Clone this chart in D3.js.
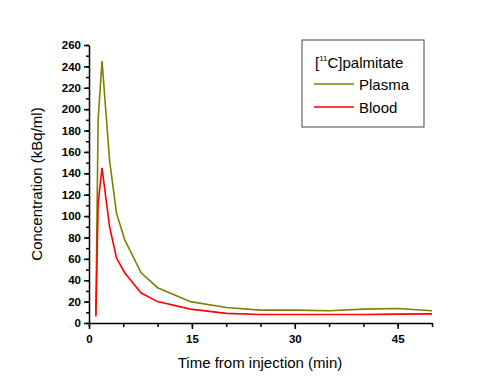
<!DOCTYPE html>
<html>
<head>
<meta charset="utf-8">
<script src="https://d3js.org/d3.v7.min.js"></script>
<style>
  body { margin: 0; background: #fff; }
  text { font-family: "Liberation Sans", Arial, sans-serif; }
  .axis text { font-weight: bold; font-size: 11.5px; fill: #000; }
  .axis line, .axis path { stroke: #000; stroke-width: 1.5; }
</style>
</head>
<body>
<svg id="chart" width="500" height="386"></svg>
<script>
// time points (min) and concentrations (kBq/ml)
var times  = [1, 1.33, 1.9, 3, 4, 5.2, 7.6, 10, 14.8, 20, 25, 30, 35, 40, 45, 50];
var plasma = [8, 190, 245, 152, 103, 78, 47, 33, 20, 14.5, 12, 12, 11.5, 13, 13.5, 11.5];
var blood  = [6, 112, 145, 90, 61, 47, 28, 20, 13, 9, 8, 8, 8, 8, 8.3, 8.5];
var xTicks = [0, 15, 30, 45];
var yTicks = [0, 20, 40, 60, 80, 100, 120, 140, 160, 180, 200, 220, 240, 260];

var margin = { top: 45, right: 68, bottom: 63, left: 89 },
    width = 500 - margin.left - margin.right,
    height = 386 - margin.top - margin.bottom;

var svg = d3.select("#chart");
var g = svg.append("g").attr("transform", "translate(" + margin.left + "," + margin.top + ")");

var x = d3.scaleLinear().domain([0, 50]).range([0, width]);
var y = d3.scaleLinear().domain([0, 260]).range([height, 0]);

// minor ticks first
g.append("g")
  .attr("class", "axis")
  .attr("transform", "translate(0," + height + ")")
  .call(d3.axisBottom(x).tickValues(d3.range(0, 51, 5)).tickSize(4).tickFormat(""))
  .select(".domain").remove();
g.append("g")
  .attr("class", "axis")
  .call(d3.axisLeft(y).tickValues(d3.range(0, 261, 10)).tickSize(3).tickFormat(""))
  .select(".domain").remove();

// major axes
g.append("g")
  .attr("class", "axis")
  .attr("transform", "translate(0," + height + ")")
  .call(d3.axisBottom(x).tickValues(xTicks).tickSize(6).tickSizeOuter(0).tickPadding(6));
g.append("g")
  .attr("class", "axis")
  .call(d3.axisLeft(y).tickValues(yTicks).tickSize(5).tickSizeOuter(0).tickPadding(3));

var line = d3.line()
  .x(function (d, i) { return x(times[i]); })
  .y(function (d) { return y(d); });

g.append("path").datum(plasma)
  .attr("fill", "none").attr("stroke", "#808000").attr("stroke-width", 1.6)
  .attr("d", line);
g.append("path").datum(blood)
  .attr("fill", "none").attr("stroke", "#ff0000").attr("stroke-width", 1.6)
  .attr("d", line);

// axis titles
svg.append("text")
  .attr("x", 260).attr("y", 368)
  .attr("text-anchor", "middle").style("font-size", "15px")
  .text("Time from injection (min)");
svg.append("text")
  .attr("transform", "translate(42," + (margin.top + height / 2) + ") rotate(-90)")
  .attr("text-anchor", "middle").style("font-size", "15px")
  .text("Concentration (kBq/ml)");

// legend
var lg = svg.append("g").attr("transform", "translate(302,40)");
lg.append("rect").attr("width", 122).attr("height", 87)
  .attr("fill", "#fff").attr("stroke", "#444").attr("stroke-width", 1);
var title = lg.append("text").attr("x", 13).attr("y", 28).style("font-size", "15px");
title.append("tspan").text("[");
title.append("tspan").attr("dy", -7).style("font-size", "8px").text("11");
title.append("tspan").attr("dy", 7).text("C]palmitate");

var series = [["Plasma", "#808000"], ["Blood", "#ff0000"]];
series.forEach(function (s, i) {
  var yy = 44 + i * 23;
  lg.append("line").attr("x1", 12).attr("x2", 52).attr("y1", yy).attr("y2", yy)
    .attr("stroke", s[1]).attr("stroke-width", 1.5);
  lg.append("text").attr("x", 57).attr("y", yy + 6).style("font-size", "15px").text(s[0]);
});
</script>
</body>
</html>
